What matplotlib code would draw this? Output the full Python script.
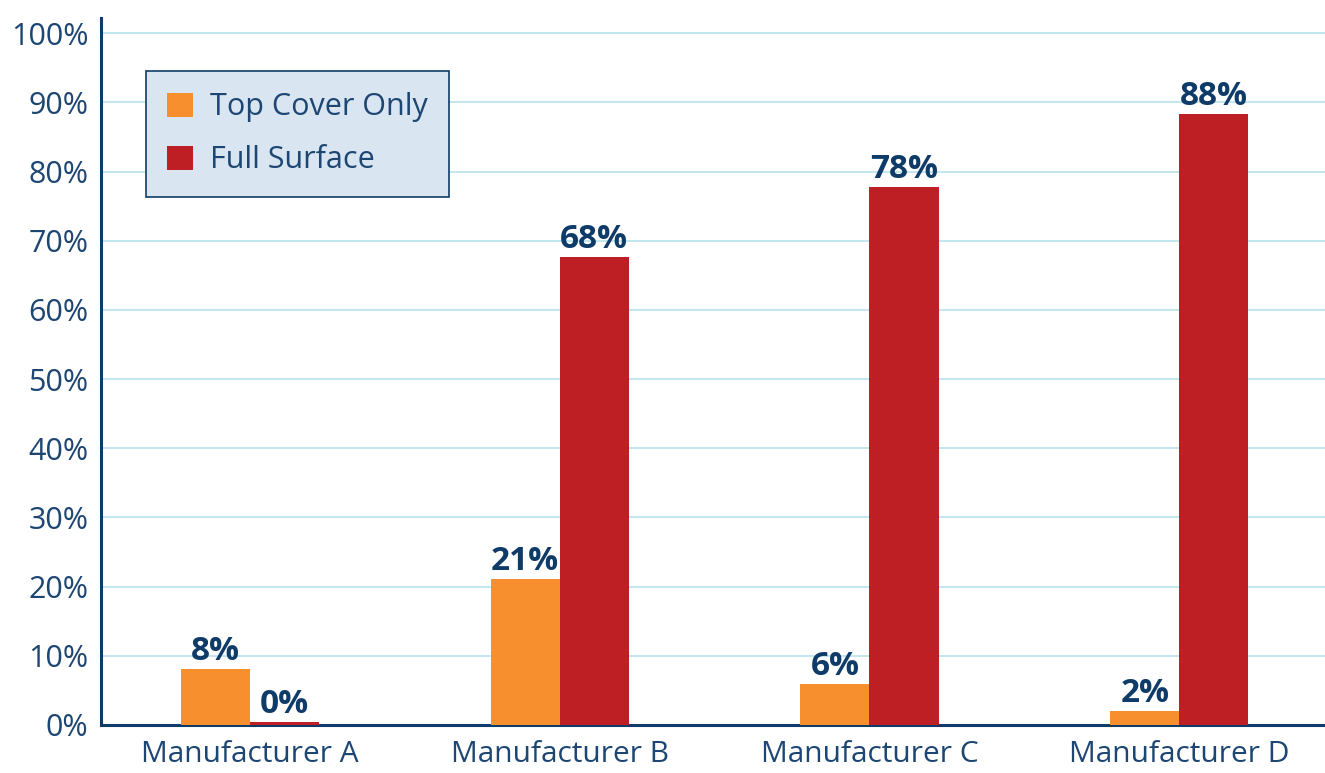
import numpy as np
import matplotlib.pyplot as plt
from matplotlib.patches import Patch

# data
manufacturers = ['Manufacturer A', 'Manufacturer B', 'Manufacturer C', 'Manufacturer D']
top_cover = [8.1, 21.1, 5.9, 2.0]
full_surface = [0.4, 67.6, 77.7, 88.3]
series_names = ['Top Cover Only', 'Full Surface']

orange = '#F78F2E'
red = '#BE1F24'
navy = '#0F3B68'
tick_col = '#1D4673'
grid_col = '#B8E2EC'

plt.rcParams['font.family'] = ['Open Sans', 'Noto Sans', 'DejaVu Sans']

fig = plt.figure(figsize=(13.25, 7.73), dpi=100)
ax = fig.add_axes([101 / 1325, 48 / 773, 1 - 101 / 1325, 707 / 773])

x = np.arange(len(manufacturers))
w = 0.223
b1 = ax.bar(x - w / 2, top_cover, w, color=orange, zorder=3)
b2 = ax.bar(x + w / 2, full_surface, w, color=red, zorder=3)

# value labels above bars
for bars, vals in [(b1, top_cover), (b2, full_surface)]:
    for bar, v in zip(bars, vals):
        ax.text(bar.get_x() + bar.get_width() / 2, bar.get_height() + 0.2,
                '%d%%' % round(v), ha='center', va='bottom',
                fontsize=24, fontweight='bold', color=navy, zorder=4)

ax.set_xlim(-0.48, 3.47)
ax.set_ylim(0, 102.2)
ax.set_yticks(np.arange(0, 101, 10))
ax.set_yticklabels(['%d%%' % t for t in range(0, 101, 10)])
ax.set_xticks(x)
ax.set_xticklabels(manufacturers)
ax.tick_params(axis='both', length=0, colors=tick_col, labelsize=22)
ax.tick_params(axis='x', labelsize=21.5, pad=11)
ax.tick_params(axis='y', pad=9)

ax.yaxis.grid(True, color=grid_col, linewidth=1.2, zorder=0)
ax.set_axisbelow(True)
for s in ['top', 'right']:
    ax.spines[s].set_visible(False)
for s in ['left', 'bottom']:
    ax.spines[s].set_color(navy)
    ax.spines[s].set_linewidth(2.2)

handles = [Patch(facecolor=orange, label=series_names[0]),
           Patch(facecolor=red, label=series_names[1])]
leg = ax.legend(handles=handles, loc='upper left',
                bbox_to_anchor=(45 / 1224, (725 - 71) / 707),
                fontsize=22, frameon=True, fancybox=False,
                handlelength=0.85, handleheight=0.85, handletextpad=0.55,
                labelspacing=0.75, borderpad=0.7, borderaxespad=0)
leg.get_frame().set_facecolor('#D9E5F1')
leg.get_frame().set_edgecolor(navy)
leg.get_frame().set_linewidth(1.2)
leg.get_frame().set_alpha(1)
for t in leg.get_texts():
    t.set_color(tick_col)

fig.savefig('out.png', dpi=100)
